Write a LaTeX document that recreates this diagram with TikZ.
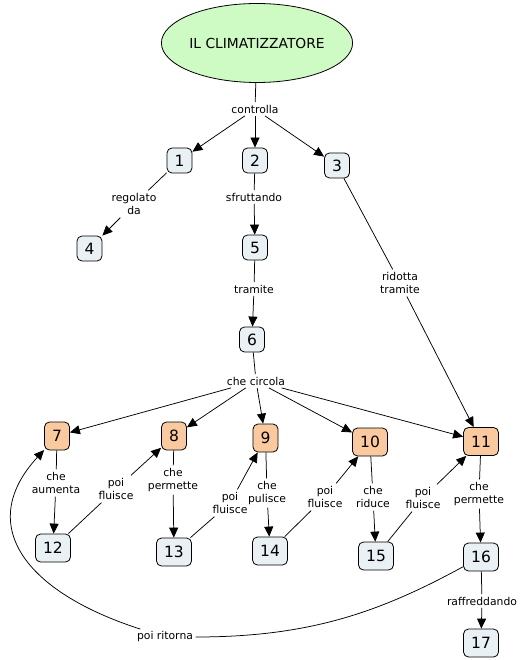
\documentclass[tikz,border=0pt]{standalone}
\usepackage{fontspec}
\setmainfont{DejaVu Sans}
\usetikzlibrary{shapes.geometric,arrows.meta}
\definecolor{boxfill}{RGB}{234,241,244}
\definecolor{orangefill}{RGB}{251,201,158}
\definecolor{titlefill}{RGB}{206,250,196}
\tikzset{
  every picture/.style={x=1pt,y=-1pt},
  conc/.style={draw, line width=0.8pt, rounded corners=5pt, fill=boxfill, inner sep=0pt,
    minimum width=25pt, minimum height=25pt, font=\fontsize{15.5}{16}\selectfont},
  concw/.style={conc, minimum width=35pt, minimum height=28pt},
  orng/.style={conc, fill=orangefill, minimum height=28pt},
  orngw/.style={concw, fill=orangefill},
  lbl/.style={inner sep=2.5pt, align=center, font=\fontsize{10.8}{13.5}\selectfont},
  ln/.style={line width=0.75pt},
  arr/.style={line width=0.75pt, -{Triangle[length=10pt,width=9pt]}}
}
\begin{document}
\begin{tikzpicture}
\useasboundingbox (0,0) rectangle (519,660);
% concepts
\node[ellipse, draw, line width=0.8pt, fill=titlefill, minimum width=169pt, minimum height=79pt, inner sep=0pt,
  font=\fontsize{13.8}{14}\selectfont] (t) at (257,43) {IL CLIMATIZZATORE};
\node[conc] (n1) at (179.5,160.5) {1};
\node[conc] (n2) at (255,160.5) {2};
\node[conc] (n3) at (337,165.5) {3};
\node[conc] (n4) at (89.5,248.5) {4};
\node[conc] (n5) at (255,247.5) {5};
\node[conc] (n6) at (252,339.5) {6};
\node[orng] (n7) at (57,436) {7};
\node[orng] (n8) at (174,436) {8};
\node[orng] (n9) at (265.5,438) {9};
\node[orngw] (n10) at (370,442) {10};
\node[orngw] (n11) at (481,441.5) {11};
\node[concw] (n12) at (53,548) {12};
\node[concw] (n13) at (174,552) {13};
\node[concw] (n14) at (270,551) {14};
\node[concw] (n15) at (376,556) {15};
\node[concw] (n16) at (481,557) {16};
\node[concw] (n17) at (481,643) {17};
% linking phrases
\node[lbl] (controlla) at (255,109) {controlla};
\node[lbl] (regolato) at (134,204) {regolato\\da};
\node[lbl] (sfrutt) at (254,197) {sfruttando};
\node[lbl] (tramite) at (254,289) {tramite};
\node[lbl] (ridotta) at (400,283) {ridotta\\tramite};
\node[lbl] (circola) at (256,381) {che circola};
\node[lbl] (aumenta) at (56,483) {che\\aumenta};
\node[lbl] (fluA) at (116,489) {poi\\fluisce};
\node[lbl] (permA) at (173,480) {che\\permette};
\node[lbl] (fluB) at (230,503) {poi\\fluisce};
\node[lbl] (pulisce) at (267,493) {che\\pulisce};
\node[lbl] (fluC) at (325,497) {poi\\fluisce};
\node[lbl] (riduce) at (373,497) {che\\riduce};
\node[lbl] (fluD) at (423,498) {poi\\fluisce};
\node[lbl] (permB) at (479,494) {che\\permette};
\node[lbl] (raffr) at (482,601) {raffreddando};
\node[lbl] (ritorna) at (165,637) {poi ritorna};
% connections
\draw[ln] (t) -- (controlla);
\draw[arr] (controlla) -- (n1);
\draw[arr] (controlla) -- (n2);
\draw[arr] (controlla) -- (n3);
\draw[ln] (n1) -- (regolato);
\draw[arr] (regolato) -- (n4);
\draw[ln] (n2) -- (sfrutt);
\draw[arr] (sfrutt) -- (n5);
\draw[ln] (n5) -- (tramite);
\draw[arr] (tramite) -- (n6);
\draw[ln] (n3) -- (ridotta);
\draw[arr] (ridotta) -- (n11);
\draw[ln] (n6) -- (circola);
\draw[arr] (circola) -- (n7);
\draw[arr] (circola) -- (n8);
\draw[arr] (circola) -- (n9);
\draw[arr] (circola) -- (n10);
\draw[arr] (circola) -- (n11);
\draw[ln] (n7) -- (aumenta);
\draw[arr] (aumenta) -- (n12);
\draw[ln] (n12) -- (fluA);
\draw[arr] (fluA) -- (n8);
\draw[ln] (n8) -- (permA);
\draw[arr] (permA) -- (n13);
\draw[ln] (n13) -- (fluB);
\draw[arr] (fluB) -- (n9);
\draw[ln] (n9) -- (pulisce);
\draw[arr] (pulisce) -- (n14);
\draw[ln] (n14) -- (fluC);
\draw[arr] (fluC) -- (n10);
\draw[ln] (n10) -- (riduce);
\draw[arr] (riduce) -- (n15);
\draw[ln] (n15) -- (fluD);
\draw[arr] (fluD) -- (n11);
\draw[ln] (n11) -- (permB);
\draw[arr] (permB) -- (n16);
\draw[ln] (n16) -- (raffr);
\draw[arr] (raffr) -- (n17);
\draw[ln] (n16) .. controls (380,612) and (310,637) .. (ritorna);
\draw[arr] (ritorna) .. controls (25,592) and (-25,525) .. (n7);
\end{tikzpicture}
\end{document}
